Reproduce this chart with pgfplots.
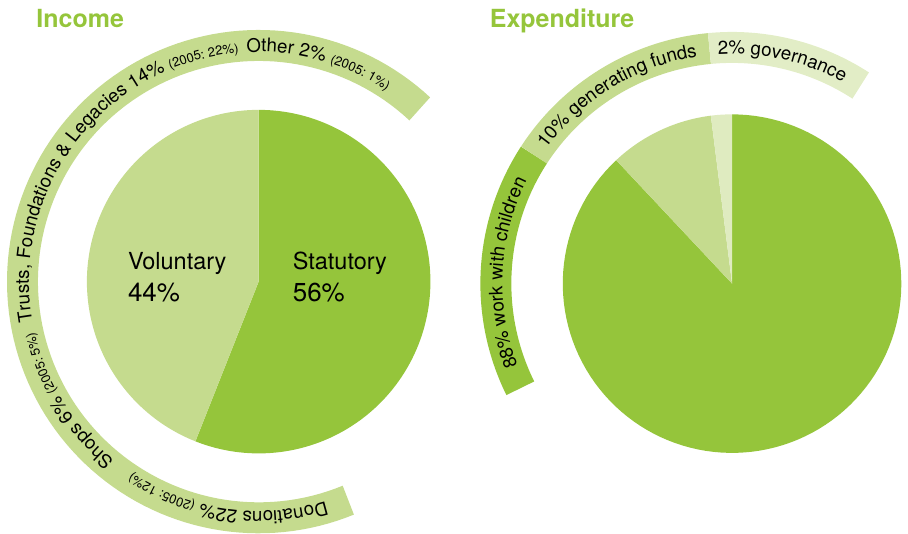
\documentclass[border=0pt]{standalone}
\usepackage{pgfplots}
\pgfplotsset{compat=1.18}
\usepackage{fontspec}
\setmainfont{TeX Gyre Heros}
\usetikzlibrary{decorations.text}
\definecolor{dgreen}{RGB}{149,197,59}
\definecolor{lgreen}{RGB}{197,219,142}
\definecolor{xlgreen}{RGB}{226,237,198}
% data (percent)
\def\incStat{56}
\def\incVol{44}
\def\expWork{88}
\def\expFunds{10}
\def\expGov{2}
\pgfmathsetmacro{\aStat}{90-3.6*\incStat}
\pgfmathsetmacro{\aWork}{90-3.6*\expWork}
\pgfmathsetmacro{\aFunds}{\aWork-3.6*\expFunds}
\pgfmathsetmacro{\aGov}{\aFunds-3.6*\expGov}
\newcommand{\lblbig}{\fontsize{18.7}{18.7}\selectfont}
\newcommand{\lblsm}{\fontsize{13}{13}\selectfont}
\begin{document}
\begin{tikzpicture}
\begin{axis}[x=1pt, y=1pt, xmin=0, xmax=908, ymin=0, ymax=528,
  scale only axis, hide axis, clip=false, samples=120]
\path (axis cs:0,0) rectangle (axis cs:908,528);
\coordinate (CI) at (axis cs:259,246);
\coordinate (CE) at (axis cs:733,244);
% ---- Income pie
\addplot[fill=dgreen, draw=none, domain=\aStat:90, variable=\t]
  ({259+172*cos(\t)},{246+172*sin(\t)}) -- (axis cs:259,246) -- cycle;
\addplot[fill=lgreen, draw=none, domain=-270:\aStat, variable=\t]
  ({259+172*cos(\t)},{246+172*sin(\t)}) -- (axis cs:259,246) -- cycle;
% ---- Income ring
\addplot[draw=lgreen, line width=31pt, domain=47:292.3, variable=\t]
  ({259+236.5*cos(\t)},{246+236.5*sin(\t)});
% ---- Expenditure pie
\addplot[fill=dgreen, draw=none, domain=\aWork:90, variable=\t]
  ({733+169.5*cos(\t)},{244+169.5*sin(\t)}) -- (axis cs:733,244) -- cycle;
\addplot[fill=lgreen, draw=none, domain=\aFunds:\aWork, variable=\t]
  ({733+169.5*cos(\t)},{244+169.5*sin(\t)}) -- (axis cs:733,244) -- cycle;
\addplot[fill=xlgreen!90!lgreen, draw=none, domain=\aGov:\aFunds, variable=\t]
  ({733+169.5*cos(\t)},{244+169.5*sin(\t)}) -- (axis cs:733,244) -- cycle;
% ---- Expenditure ring
\addplot[draw=dgreen, line width=31pt, domain=147:206.3, variable=\t]
  ({733+236.5*cos(\t)},{244+236.5*sin(\t)});
\addplot[draw=lgreen, line width=31pt, domain=95.5:147, variable=\t]
  ({733+236.5*cos(\t)},{244+236.5*sin(\t)});
\addplot[draw=xlgreen, line width=31pt, domain=57:95.5, variable=\t]
  ({733+236.5*cos(\t)},{244+236.5*sin(\t)});
% ---- titles and labels
\node[anchor=base west, text=dgreen, font=\fontsize{25}{25}\selectfont\bfseries] at (axis cs:33,500) {Income};
\node[anchor=base west, text=dgreen, font=\fontsize{25}{25}\selectfont\bfseries] at (axis cs:487,500) {Expenditure};
\node[anchor=base west, inner sep=0pt, font=\fontsize{23.5}{23.5}\selectfont] at (axis cs:128,258) {Voluntary};
\node[anchor=base west, inner sep=0pt, font=\fontsize{26}{26}\selectfont] at (axis cs:128,226) {44\%};
\node[anchor=base west, inner sep=0pt, font=\fontsize{23.5}{23.5}\selectfont] at (axis cs:293,258) {Statutory};
\node[anchor=base west, inner sep=0pt, font=\fontsize{26}{26}\selectfont] at (axis cs:293,226) {56\%};
\end{axis}
% ---- curved ring labels
\path[decorate, decoration={text along path, text align=left,
  text={|\lblbig|Other 2{\%} |\lblsm|(2005: 1{\%})}}]
  ([shift={(CI)}]93:230pt) arc[start angle=93, end angle=30, radius=230pt];
\path[decorate, decoration={text along path, text align=left,
  text={|\lblbig|Trusts, Foundations {\&} Legacies 14{\%} |\lblsm|(2005: 22{\%})}}]
  ([shift={(CI)}]190:230pt) arc[start angle=190, end angle=80, radius=230pt];
\path[decorate, decoration={text along path, text align=left,
  text={|\lblbig|Shops 6{\%} |\lblsm|(2005: 5{\%})}}]
  ([shift={(CI)}]231:230pt) arc[start angle=231, end angle=180, radius=230pt];
\path[decorate, decoration={text along path, text align=left,
  text={|\lblbig|Donations 22{\%} |\lblsm|(2005: 12{\%})}}]
  ([shift={(CI)}]287:230pt) arc[start angle=287, end angle=225, radius=230pt];
\path[decorate, decoration={text along path, text align=left,
  text={|\lblbig|88{\%} work with children}}]
  ([shift={(CE)}]201:230pt) arc[start angle=201, end angle=140, radius=230pt];
\path[decorate, decoration={text along path, text align=left,
  text={|\lblbig|10{\%} generating funds}}]
  ([shift={(CE)}]144:230pt) arc[start angle=144, end angle=90, radius=230pt];
\path[decorate, decoration={text along path, text align=left,
  text={|\lblbig|2{\%} governance}}]
  ([shift={(CE)}]93.5:230pt) arc[start angle=93.5, end angle=40, radius=230pt];
\end{tikzpicture}
\end{document}
